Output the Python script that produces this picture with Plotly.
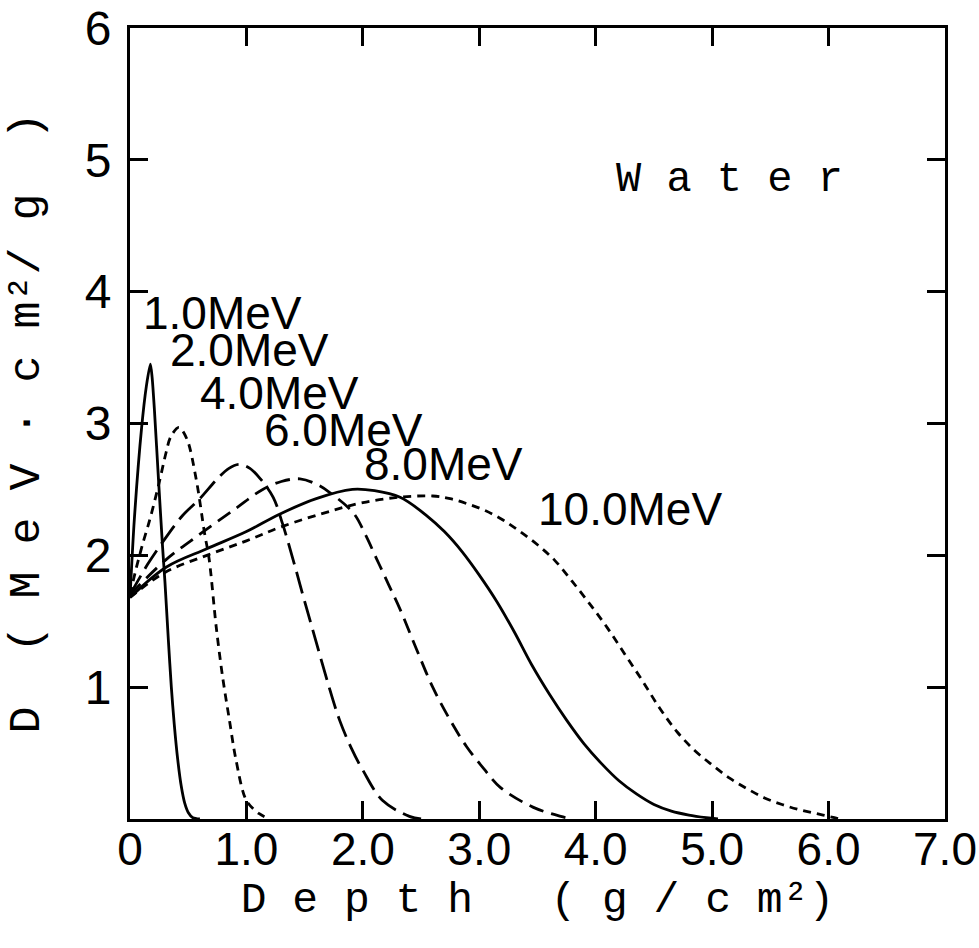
import plotly.graph_objects as go

# ---- data ----
x_1mev = [0.0, 0.037, 0.10, 0.14, 0.175, 0.19, 0.21, 0.245, 0.28, 0.30, 0.33, 0.355, 0.38, 0.41, 0.44, 0.47, 0.50, 0.54, 0.60]
y_1mev = [1.68, 2.27, 2.97, 3.28, 3.45, 3.35, 3.10, 2.57, 2.06, 1.80, 1.35, 1.00, 0.72, 0.45, 0.25, 0.12, 0.05, 0.01, 0.0]

x_2mev = [0.0, 0.05, 0.11, 0.17, 0.25, 0.31, 0.35, 0.42, 0.49, 0.57, 0.64, 0.68, 0.74, 0.795, 0.854, 0.91, 1.0, 1.11, 1.2]
y_2mev = [1.70, 1.89, 2.09, 2.27, 2.55, 2.78, 2.90, 2.97, 2.88, 2.57, 2.17, 1.97, 1.46, 1.08, 0.75, 0.45, 0.14, 0.04, 0.0]

x_4mev = [0.0, 0.15, 0.28, 0.45, 0.60, 0.75, 0.85, 0.94, 1.03, 1.12, 1.23, 1.31, 1.40, 1.50, 1.60, 1.70, 1.80, 1.90, 2.00, 2.17, 2.40, 2.50]
y_4mev = [1.70, 1.93, 2.10, 2.30, 2.43, 2.58, 2.66, 2.69, 2.66, 2.58, 2.44, 2.24, 1.97, 1.65, 1.34, 1.03, 0.75, 0.54, 0.37, 0.14, 0.02, 0.0]

x_6mev = [0.0, 0.30, 0.60, 0.90, 1.14, 1.30, 1.46, 1.60, 1.71, 1.92, 2.02, 2.12, 2.22, 2.32, 2.46, 2.60, 2.75, 2.89, 3.04, 3.18, 3.46, 3.70, 3.80]
y_6mev = [1.70, 1.96, 2.16, 2.35, 2.50, 2.56, 2.58, 2.54, 2.48, 2.32, 2.16, 1.97, 1.78, 1.59, 1.29, 1.00, 0.75, 0.55, 0.38, 0.24, 0.09, 0.02, 0.0]

x_8mev = [0.0, 0.31, 0.66, 1.00, 1.28, 1.60, 1.91, 2.10, 2.32, 2.55, 2.70, 2.85, 3.00, 3.15, 3.30, 3.45, 3.60, 3.75, 3.90, 4.05, 4.20, 4.35, 4.50, 4.65, 4.80, 4.95, 5.05]
y_8mev = [1.68, 1.91, 2.05, 2.18, 2.31, 2.43, 2.50, 2.49, 2.44, 2.30, 2.18, 2.03, 1.85, 1.65, 1.42, 1.17, 0.95, 0.75, 0.57, 0.42, 0.29, 0.19, 0.11, 0.06, 0.03, 0.01, 0.0]

x_10mev = [0.0, 0.30, 0.66, 1.00, 1.31, 1.74, 2.00, 2.30, 2.60, 2.75, 2.90, 3.05, 3.20, 3.35, 3.50, 3.65, 3.80, 3.95, 4.10, 4.25, 4.40, 4.55, 4.70, 4.85, 5.00, 5.15, 5.30, 5.45, 5.60, 5.75, 5.90, 6.05, 6.10]
y_10mev = [1.68, 1.87, 2.00, 2.11, 2.22, 2.34, 2.40, 2.44, 2.45, 2.43, 2.39, 2.34, 2.27, 2.18, 2.08, 1.96, 1.80, 1.63, 1.45, 1.25, 1.05, 0.84, 0.66, 0.52, 0.41, 0.31, 0.23, 0.16, 0.11, 0.07, 0.04, 0.01, 0.0]

series_names = ["1.0MeV", "2.0MeV", "4.0MeV", "6.0MeV", "8.0MeV", "10.0MeV"]
series_x = [x_1mev, x_2mev, x_4mev, x_6mev, x_8mev, x_10mev]
series_y = [y_1mev, y_2mev, y_4mev, y_6mev, y_8mev, y_10mev]

# curve label positions (data coords, centre of the text)
label_x = [0.794, 1.03, 1.284, 1.834, 2.69, 4.293]
label_y = [3.84, 3.56, 3.23, 2.95, 2.69, 2.35]

x_tickvals = [0, 1, 2, 3, 4, 5, 6, 7]
x_ticktext = ["0", "1.0", "2.0", "3.0", "4.0", "5.0", "6.0", "7.0"]
y_tickvals = [1, 2, 3, 4, 5, 6]
y_ticktext = ["1", "2", "3", "4", "5", "6"]

NB = "\u00a0"
medium_label = NB.join("Water")
x_title = "D" + NB + "e" + NB + "p" + NB + "t" + NB + "h" + NB * 3 + "(" + NB + "g" + NB + "/" + NB + "c" + NB + "m²)" + NB
y_title = "D" + NB * 2 + "(" + NB + "M" + NB + "e" + NB + "V" + NB + "·" + NB + "c" + NB + "m²/" + NB + "g" + NB * 2 + ")"

# ---- styles ----
dashes = ["solid", "8px,6px", "22px,8px", "15px,8px", "solid", "8px,6px"]
smooth = [0.7, 0.9, 1.0, 1.0, 1.0, 1.0]
SANS = "Liberation Sans, Arial, sans-serif"
MONO = "Liberation Mono, DejaVu Sans Mono, monospace"

fig = go.Figure()
for name, xs, ys, d, sm in zip(series_names, series_x, series_y, dashes, smooth):
    fig.add_trace(go.Scatter(
        x=xs, y=ys, mode="lines", name=name,
        line=dict(color="black", width=2.8, dash=d, shape="spline", smoothing=sm),
        showlegend=False, hoverinfo="skip",
    ))

for name, lx, ly in zip(series_names, label_x, label_y):
    fig.add_annotation(x=lx, y=ly, xref="x", yref="y", text=name, showarrow=False,
                       xanchor="center", yanchor="middle",
                       font=dict(family=SANS, size=46, color="black"))

fig.add_annotation(x=5.15, y=4.85, xref="x", yref="y", text=medium_label, showarrow=False,
                   xanchor="center", yanchor="middle",
                   font=dict(family=MONO, size=42, color="black"))

# y-axis title (placed as rotated text left of the tick labels)
fig.add_annotation(x=(27 - 130) / 815, y=0.5, xref="paper", yref="paper", text=y_title,
                   showarrow=False, textangle=-90, xanchor="center", yanchor="middle",
                   font=dict(family=MONO, size=45, color="black"))

axis_common = dict(
    showline=True, linecolor="black", linewidth=3, mirror="allticks",
    ticks="inside", ticklen=18, tickwidth=2.5, tickcolor="black",
    showgrid=False, zeroline=False, automargin=False,
)

fig.update_xaxes(range=[0, 7], tickmode="array", tickvals=x_tickvals, ticktext=x_ticktext,
                 tickfont=dict(family=SANS, size=46, color="black"), ticklabeloverflow="allow",
                 ticklabelstandoff=-12,
                 title=dict(text=x_title, font=dict(family=MONO, size=43, color="black"), standoff=8),
                 **axis_common)
fig.update_yaxes(range=[0, 6], tickmode="array", tickvals=y_tickvals, ticktext=y_ticktext,
                 tickfont=dict(family=SANS, size=48, color="black"), ticklabeloverflow="allow",
                 ticklabelstandoff=6,
                 **axis_common)

fig.update_layout(
    width=979, height=948, autosize=False,
    margin=dict(l=130, r=34, t=28, b=129, pad=0),
    paper_bgcolor="white", plot_bgcolor="white",
    showlegend=False,
)

fig.write_html("out.html")
